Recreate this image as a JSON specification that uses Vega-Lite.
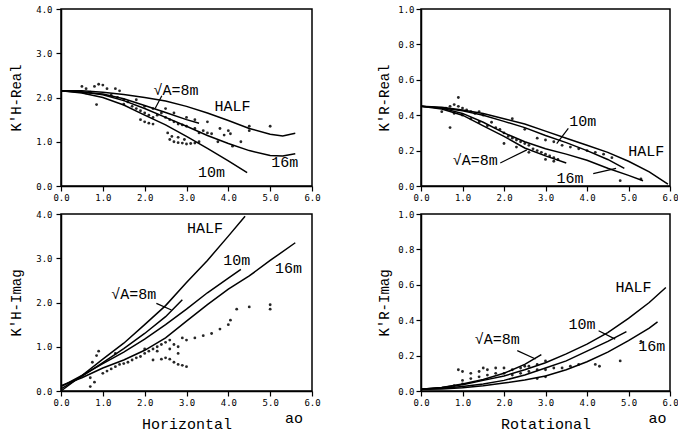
{
  "$schema": "https://vega.github.io/schema/vega-lite/v6.json",
  "background": "white",
  "padding": {"left": 8, "top": 4, "right": 2, "bottom": 2},
  "columns": 2,
  "spacing": {"row": 6, "column": 55},
  "config": {
    "view": {"stroke": "black", "strokeWidth": 1.5},
    "axis": {
      "grid": false, "domainColor": "black", "domainWidth": 1.5, "tickColor": "black", "tickSize": 5, "tickWidth": 1.2,
      "labelFont": "DejaVu Sans Mono", "labelFontSize": 9, "labelColor": "black", "labelOverlap": false, "labelFlush": false,
      "titleFont": "Liberation Mono", "titleFontSize": 14, "titleFontWeight": "normal", "titleColor": "black"
    }
  },
  "datasets": {
    "curves": [
      {"p":"HR","s":"HALF","x":0,"y":2.15},{"p":"HR","s":"HALF","x":0.5,"y":2.15},{"p":"HR","s":"HALF","x":1,"y":2.12},{"p":"HR","s":"HALF","x":1.5,"y":2.07},{"p":"HR","s":"HALF","x":2,"y":2.0},{"p":"HR","s":"HALF","x":2.5,"y":1.92},{"p":"HR","s":"HALF","x":3,"y":1.8},{"p":"HR","s":"HALF","x":3.5,"y":1.65},{"p":"HR","s":"HALF","x":4,"y":1.48},{"p":"HR","s":"HALF","x":4.5,"y":1.3},{"p":"HR","s":"HALF","x":5,"y":1.17},{"p":"HR","s":"HALF","x":5.3,"y":1.13},{"p":"HR","s":"HALF","x":5.6,"y":1.19},
      {"p":"HR","s":"16m","x":0,"y":2.15},{"p":"HR","s":"16m","x":0.5,"y":2.13},{"p":"HR","s":"16m","x":1,"y":2.06},{"p":"HR","s":"16m","x":1.5,"y":1.93},{"p":"HR","s":"16m","x":2,"y":1.75},{"p":"HR","s":"16m","x":2.5,"y":1.55},{"p":"HR","s":"16m","x":3,"y":1.35},{"p":"HR","s":"16m","x":3.5,"y":1.14},{"p":"HR","s":"16m","x":4,"y":0.96},{"p":"HR","s":"16m","x":4.5,"y":0.8},{"p":"HR","s":"16m","x":5,"y":0.69},{"p":"HR","s":"16m","x":5.3,"y":0.68},{"p":"HR","s":"16m","x":5.6,"y":0.73},
      {"p":"HR","s":"10m","x":0,"y":2.15},{"p":"HR","s":"10m","x":0.5,"y":2.1},{"p":"HR","s":"10m","x":1,"y":2.0},{"p":"HR","s":"10m","x":1.5,"y":1.83},{"p":"HR","s":"10m","x":2,"y":1.6},{"p":"HR","s":"10m","x":2.5,"y":1.38},{"p":"HR","s":"10m","x":3,"y":1.12},{"p":"HR","s":"10m","x":3.5,"y":0.85},{"p":"HR","s":"10m","x":4,"y":0.57},{"p":"HR","s":"10m","x":4.45,"y":0.3},
      {"p":"HR","s":"8m","x":0,"y":2.15},{"p":"HR","s":"8m","x":1,"y":2.08},{"p":"HR","s":"8m","x":1.5,"y":1.97},{"p":"HR","s":"8m","x":2,"y":1.82},{"p":"HR","s":"8m","x":2.5,"y":1.66},{"p":"HR","s":"8m","x":3,"y":1.5},{"p":"HR","s":"8m","x":3.3,"y":1.42},

      {"p":"RR","s":"HALF","x":0,"y":0.45},{"p":"RR","s":"HALF","x":0.5,"y":0.445},{"p":"RR","s":"HALF","x":1,"y":0.43},{"p":"RR","s":"HALF","x":1.5,"y":0.41},{"p":"RR","s":"HALF","x":2,"y":0.38},{"p":"RR","s":"HALF","x":2.5,"y":0.35},{"p":"RR","s":"HALF","x":3,"y":0.31},{"p":"RR","s":"HALF","x":3.5,"y":0.27},{"p":"RR","s":"HALF","x":4,"y":0.23},{"p":"RR","s":"HALF","x":4.5,"y":0.19},{"p":"RR","s":"HALF","x":5,"y":0.14},{"p":"RR","s":"HALF","x":5.5,"y":0.08},{"p":"RR","s":"HALF","x":5.95,"y":0.01},
      {"p":"RR","s":"10m","x":0,"y":0.45},{"p":"RR","s":"10m","x":0.5,"y":0.44},{"p":"RR","s":"10m","x":1,"y":0.425},{"p":"RR","s":"10m","x":1.5,"y":0.4},{"p":"RR","s":"10m","x":2,"y":0.365},{"p":"RR","s":"10m","x":2.5,"y":0.33},{"p":"RR","s":"10m","x":3,"y":0.285},{"p":"RR","s":"10m","x":3.5,"y":0.245},{"p":"RR","s":"10m","x":4,"y":0.2},{"p":"RR","s":"10m","x":4.5,"y":0.15},{"p":"RR","s":"10m","x":4.9,"y":0.1},
      {"p":"RR","s":"16m","x":0,"y":0.45},{"p":"RR","s":"16m","x":0.5,"y":0.44},{"p":"RR","s":"16m","x":1,"y":0.41},{"p":"RR","s":"16m","x":1.5,"y":0.36},{"p":"RR","s":"16m","x":2,"y":0.3},{"p":"RR","s":"16m","x":2.5,"y":0.25},{"p":"RR","s":"16m","x":3,"y":0.21},{"p":"RR","s":"16m","x":3.5,"y":0.18},{"p":"RR","s":"16m","x":4,"y":0.145},{"p":"RR","s":"16m","x":4.5,"y":0.1},{"p":"RR","s":"16m","x":5,"y":0.06},{"p":"RR","s":"16m","x":5.35,"y":0.03},
      {"p":"RR","s":"8m","x":0,"y":0.45},{"p":"RR","s":"8m","x":0.5,"y":0.435},{"p":"RR","s":"8m","x":1,"y":0.4},{"p":"RR","s":"8m","x":1.5,"y":0.34},{"p":"RR","s":"8m","x":2,"y":0.28},{"p":"RR","s":"8m","x":2.5,"y":0.215},{"p":"RR","s":"8m","x":3,"y":0.17},{"p":"RR","s":"8m","x":3.5,"y":0.13},

      {"p":"HI","s":"HALF","x":0,"y":0},{"p":"HI","s":"HALF","x":0.5,"y":0.35},{"p":"HI","s":"HALF","x":1,"y":0.72},{"p":"HI","s":"HALF","x":1.5,"y":1.08},{"p":"HI","s":"HALF","x":2,"y":1.5},{"p":"HI","s":"HALF","x":2.5,"y":1.93},{"p":"HI","s":"HALF","x":3,"y":2.45},{"p":"HI","s":"HALF","x":3.5,"y":2.95},{"p":"HI","s":"HALF","x":4,"y":3.5},{"p":"HI","s":"HALF","x":4.4,"y":3.95},
      {"p":"HI","s":"10m","x":0,"y":0.1},{"p":"HI","s":"10m","x":0.5,"y":0.35},{"p":"HI","s":"10m","x":1,"y":0.62},{"p":"HI","s":"10m","x":1.5,"y":0.88},{"p":"HI","s":"10m","x":2,"y":1.17},{"p":"HI","s":"10m","x":2.5,"y":1.5},{"p":"HI","s":"10m","x":3,"y":1.85},{"p":"HI","s":"10m","x":3.5,"y":2.22},{"p":"HI","s":"10m","x":4,"y":2.55},{"p":"HI","s":"10m","x":4.3,"y":2.75},
      {"p":"HI","s":"16m","x":0,"y":0.12},{"p":"HI","s":"16m","x":0.5,"y":0.3},{"p":"HI","s":"16m","x":1,"y":0.52},{"p":"HI","s":"16m","x":1.5,"y":0.7},{"p":"HI","s":"16m","x":2,"y":0.92},{"p":"HI","s":"16m","x":2.5,"y":1.2},{"p":"HI","s":"16m","x":3,"y":1.58},{"p":"HI","s":"16m","x":3.5,"y":1.95},{"p":"HI","s":"16m","x":4,"y":2.3},{"p":"HI","s":"16m","x":4.5,"y":2.6},{"p":"HI","s":"16m","x":5,"y":2.95},{"p":"HI","s":"16m","x":5.6,"y":3.35},
      {"p":"HI","s":"8m","x":0,"y":0.05},{"p":"HI","s":"8m","x":0.5,"y":0.33},{"p":"HI","s":"8m","x":1,"y":0.64},{"p":"HI","s":"8m","x":1.5,"y":0.96},{"p":"HI","s":"8m","x":2,"y":1.3},{"p":"HI","s":"8m","x":2.5,"y":1.68},{"p":"HI","s":"8m","x":2.9,"y":2.06},

      {"p":"RI","s":"HALF","x":0,"y":0.01},{"p":"RI","s":"HALF","x":0.5,"y":0.02},{"p":"RI","s":"HALF","x":1,"y":0.035},{"p":"RI","s":"HALF","x":1.5,"y":0.06},{"p":"RI","s":"HALF","x":2,"y":0.085},{"p":"RI","s":"HALF","x":2.5,"y":0.12},{"p":"RI","s":"HALF","x":3,"y":0.16},{"p":"RI","s":"HALF","x":3.5,"y":0.21},{"p":"RI","s":"HALF","x":4,"y":0.265},{"p":"RI","s":"HALF","x":4.5,"y":0.33},{"p":"RI","s":"HALF","x":5,"y":0.41},{"p":"RI","s":"HALF","x":5.5,"y":0.5},{"p":"RI","s":"HALF","x":5.9,"y":0.585},
      {"p":"RI","s":"10m","x":0,"y":0.01},{"p":"RI","s":"10m","x":0.5,"y":0.015},{"p":"RI","s":"10m","x":1,"y":0.025},{"p":"RI","s":"10m","x":1.5,"y":0.04},{"p":"RI","s":"10m","x":2,"y":0.06},{"p":"RI","s":"10m","x":2.5,"y":0.09},{"p":"RI","s":"10m","x":3,"y":0.13},{"p":"RI","s":"10m","x":3.5,"y":0.17},{"p":"RI","s":"10m","x":4,"y":0.225},{"p":"RI","s":"10m","x":4.5,"y":0.28},{"p":"RI","s":"10m","x":4.95,"y":0.335},
      {"p":"RI","s":"16m","x":0,"y":0.01},{"p":"RI","s":"16m","x":0.5,"y":0.012},{"p":"RI","s":"16m","x":1,"y":0.018},{"p":"RI","s":"16m","x":1.5,"y":0.03},{"p":"RI","s":"16m","x":2,"y":0.045},{"p":"RI","s":"16m","x":2.5,"y":0.062},{"p":"RI","s":"16m","x":3,"y":0.085},{"p":"RI","s":"16m","x":3.5,"y":0.12},{"p":"RI","s":"16m","x":4,"y":0.165},{"p":"RI","s":"16m","x":4.5,"y":0.22},{"p":"RI","s":"16m","x":5,"y":0.285},{"p":"RI","s":"16m","x":5.5,"y":0.355},{"p":"RI","s":"16m","x":5.7,"y":0.39},
      {"p":"RI","s":"8m","x":0,"y":0.01},{"p":"RI","s":"8m","x":0.5,"y":0.02},{"p":"RI","s":"8m","x":1,"y":0.04},{"p":"RI","s":"8m","x":1.5,"y":0.065},{"p":"RI","s":"8m","x":2,"y":0.1},{"p":"RI","s":"8m","x":2.5,"y":0.15},{"p":"RI","s":"8m","x":2.9,"y":0.205}
    ],
    "leaders": [
      {"p":"HR","id":"a","x":2.41,"y":2.04},{"p":"HR","id":"a","x":2.25,"y":1.75},
      {"p":"RR","id":"a","x":3.55,"y":0.326},{"p":"RR","id":"a","x":3.27,"y":0.24},
      {"p":"RR","id":"b","x":4.15,"y":0.07},{"p":"RR","id":"b","x":4.7,"y":0.1},
      {"p":"RR","id":"c","x":1.91,"y":0.13},{"p":"RR","id":"c","x":2.55,"y":0.204},
      {"p":"HI","id":"a","x":2.28,"y":1.98},{"p":"HI","id":"a","x":2.64,"y":1.83},
      {"p":"RI","id":"a","x":4.28,"y":0.34},{"p":"RI","id":"a","x":4.68,"y":0.293},
      {"p":"RI","id":"b","x":2.32,"y":0.228},{"p":"RI","id":"b","x":2.76,"y":0.181}
    ],
    "labels": [
      {"p":"HR","t":"HALF","x":4.1,"y":1.8},{"p":"HR","t":"10m","x":3.6,"y":0.31},{"p":"HR","t":"16m","x":5.35,"y":0.55},{"p":"HR","t":"√A=8m","x":2.75,"y":2.17},
      {"p":"RR","t":"10m","x":3.9,"y":0.37},{"p":"RR","t":"HALF","x":5.43,"y":0.195},{"p":"RR","t":"16m","x":3.59,"y":0.045},{"p":"RR","t":"√A=8m","x":1.31,"y":0.148},
      {"p":"HI","t":"HALF","x":3.44,"y":3.68},{"p":"HI","t":"10m","x":4.2,"y":2.97},{"p":"HI","t":"16m","x":5.44,"y":2.78},{"p":"HI","t":"√A=8m","x":1.74,"y":2.19},{"p":"HI","t":"ao","x":5.57,"y":-0.6},
      {"p":"RI","t":"HALF","x":5.12,"y":0.59},{"p":"RI","t":"10m","x":3.88,"y":0.378},{"p":"RI","t":"16m","x":5.56,"y":0.256},{"p":"RI","t":"√A=8m","x":1.84,"y":0.293},{"p":"RI","t":"ao","x":5.7,"y":-0.15}
    ],
    "pts": [
      {"p":"HR","x":0.5,"y":2.25},{"p":"HR","x":0.6,"y":2.2},{"p":"HR","x":0.8,"y":2.25},{"p":"HR","x":0.9,"y":2.3},{"p":"HR","x":1.0,"y":2.28},{"p":"HR","x":1.1,"y":2.2},{"p":"HR","x":1.3,"y":2.2},{"p":"HR","x":1.4,"y":2.15},{"p":"HR","x":0.85,"y":1.84},{"p":"HR","x":0.6,"y":2.1},{"p":"HR","x":0.7,"y":2.12},{"p":"HR","x":1.2,"y":2.05},{"p":"HR","x":1.35,"y":2.0},
      {"p":"HR","x":2.55,"y":1.2},{"p":"HR","x":2.6,"y":1.05},{"p":"HR","x":2.7,"y":1.0},{"p":"HR","x":2.8,"y":0.98},{"p":"HR","x":2.9,"y":0.97},{"p":"HR","x":3.0,"y":0.95},{"p":"HR","x":3.1,"y":0.96},{"p":"HR","x":3.2,"y":0.97},{"p":"HR","x":3.3,"y":1.0},{"p":"HR","x":2.65,"y":1.12},{"p":"HR","x":2.8,"y":1.1},{"p":"HR","x":2.95,"y":1.05},
      {"p":"HR","x":3.9,"y":1.15},{"p":"HR","x":4.0,"y":1.25},{"p":"HR","x":4.05,"y":1.18},{"p":"HR","x":4.1,"y":0.9},{"p":"HR","x":3.75,"y":1.0},{"p":"HR","x":4.3,"y":1.0},{"p":"HR","x":4.5,"y":1.35},{"p":"HR","x":4.5,"y":1.25},{"p":"HR","x":5.0,"y":1.35},
      {"p":"HR","x":1.5,"y":1.95},{"p":"HR","x":1.6,"y":1.9},{"p":"HR","x":1.7,"y":1.8},{"p":"HR","x":1.8,"y":1.75},{"p":"HR","x":1.9,"y":1.7},{"p":"HR","x":2.0,"y":1.65},{"p":"HR","x":2.1,"y":1.6},{"p":"HR","x":2.2,"y":1.55},{"p":"HR","x":2.3,"y":1.6},{"p":"HR","x":2.4,"y":1.65},{"p":"HR","x":2.5,"y":1.55},{"p":"HR","x":2.6,"y":1.5},{"p":"HR","x":2.7,"y":1.45},{"p":"HR","x":2.8,"y":1.4},{"p":"HR","x":2.9,"y":1.38},{"p":"HR","x":3.0,"y":1.35},{"p":"HR","x":3.2,"y":1.3},{"p":"HR","x":3.4,"y":1.25},{"p":"HR","x":3.5,"y":1.2},{"p":"HR","x":3.6,"y":1.18},{"p":"HR","x":1.5,"y":1.85},{"p":"HR","x":1.8,"y":1.95},{"p":"HR","x":2.0,"y":1.8},{"p":"HR","x":2.2,"y":1.75},{"p":"HR","x":1.9,"y":1.5},{"p":"HR","x":2.0,"y":1.45},{"p":"HR","x":2.1,"y":1.42},{"p":"HR","x":2.2,"y":1.4},{"p":"HR","x":2.5,"y":1.75},{"p":"HR","x":2.7,"y":1.65},{"p":"HR","x":3.0,"y":1.55},{"p":"HR","x":3.2,"y":1.5},{"p":"HR","x":3.5,"y":1.45},{"p":"HR","x":3.8,"y":1.3},{"p":"HR","x":3.3,"y":1.2},

      {"p":"RR","x":0.7,"y":0.33},{"p":"RR","x":0.9,"y":0.5},{"p":"RR","x":0.5,"y":0.42},{"p":"RR","x":0.6,"y":0.44},{"p":"RR","x":0.7,"y":0.45},{"p":"RR","x":0.8,"y":0.46},{"p":"RR","x":0.9,"y":0.45},{"p":"RR","x":1.0,"y":0.44},{"p":"RR","x":1.1,"y":0.43},{"p":"RR","x":1.2,"y":0.42},{"p":"RR","x":1.3,"y":0.41},{"p":"RR","x":1.4,"y":0.42},{"p":"RR","x":1.5,"y":0.4},{"p":"RR","x":0.8,"y":0.41},{"p":"RR","x":1.0,"y":0.4},{"p":"RR","x":1.2,"y":0.38},{"p":"RR","x":1.4,"y":0.36},{"p":"RR","x":1.6,"y":0.34},{"p":"RR","x":1.8,"y":0.33},{"p":"RR","x":2.0,"y":0.3},{"p":"RR","x":2.1,"y":0.28},{"p":"RR","x":2.2,"y":0.27},{"p":"RR","x":2.3,"y":0.26},{"p":"RR","x":2.4,"y":0.25},{"p":"RR","x":2.5,"y":0.24},{"p":"RR","x":2.6,"y":0.23},{"p":"RR","x":2.7,"y":0.21},{"p":"RR","x":2.8,"y":0.2},{"p":"RR","x":2.9,"y":0.19},{"p":"RR","x":3.0,"y":0.18},{"p":"RR","x":3.1,"y":0.17},{"p":"RR","x":3.2,"y":0.16},{"p":"RR","x":3.3,"y":0.15},{"p":"RR","x":2.2,"y":0.38},{"p":"RR","x":2.5,"y":0.32},{"p":"RR","x":2.8,"y":0.27},{"p":"RR","x":3.0,"y":0.26},{"p":"RR","x":3.2,"y":0.25},{"p":"RR","x":3.4,"y":0.23},{"p":"RR","x":3.6,"y":0.22},{"p":"RR","x":3.8,"y":0.21},{"p":"RR","x":4.0,"y":0.2},{"p":"RR","x":4.2,"y":0.19},{"p":"RR","x":4.4,"y":0.18},{"p":"RR","x":4.6,"y":0.16},{"p":"RR","x":4.8,"y":0.03},{"p":"RR","x":5.3,"y":0.04},{"p":"RR","x":2.0,"y":0.24},{"p":"RR","x":2.3,"y":0.22},{"p":"RR","x":2.6,"y":0.19},{"p":"RR","x":3.0,"y":0.15},{"p":"RR","x":3.2,"y":0.14},{"p":"RR","x":1.7,"y":0.36},{"p":"RR","x":1.9,"y":0.32},

      {"p":"HI","x":0.7,"y":0.3},{"p":"HI","x":0.7,"y":0.1},{"p":"HI","x":0.8,"y":0.2},{"p":"HI","x":0.85,"y":0.8},{"p":"HI","x":0.9,"y":0.9},{"p":"HI","x":0.75,"y":0.65},{"p":"HI","x":1.0,"y":0.4},{"p":"HI","x":1.1,"y":0.45},{"p":"HI","x":1.2,"y":0.5},{"p":"HI","x":1.3,"y":0.55},{"p":"HI","x":1.4,"y":0.6},{"p":"HI","x":1.5,"y":0.62},{"p":"HI","x":1.6,"y":0.65},{"p":"HI","x":1.7,"y":0.7},{"p":"HI","x":1.8,"y":0.75},{"p":"HI","x":1.9,"y":0.78},{"p":"HI","x":2.0,"y":0.85},{"p":"HI","x":2.1,"y":0.9},{"p":"HI","x":2.2,"y":0.95},{"p":"HI","x":2.3,"y":1.0},{"p":"HI","x":2.4,"y":1.05},{"p":"HI","x":2.2,"y":0.7},{"p":"HI","x":2.4,"y":0.72},{"p":"HI","x":2.5,"y":0.75},{"p":"HI","x":2.6,"y":0.72},{"p":"HI","x":2.7,"y":0.65},{"p":"HI","x":2.8,"y":0.6},{"p":"HI","x":2.9,"y":0.58},{"p":"HI","x":3.0,"y":0.55},{"p":"HI","x":2.5,"y":1.1},{"p":"HI","x":2.6,"y":1.15},{"p":"HI","x":2.7,"y":1.05},{"p":"HI","x":2.8,"y":1.0},{"p":"HI","x":2.9,"y":1.2},{"p":"HI","x":3.0,"y":1.15},{"p":"HI","x":3.2,"y":1.2},{"p":"HI","x":3.4,"y":1.25},{"p":"HI","x":3.6,"y":1.3},{"p":"HI","x":3.8,"y":1.4},{"p":"HI","x":4.0,"y":1.5},{"p":"HI","x":4.05,"y":1.6},{"p":"HI","x":4.2,"y":1.85},{"p":"HI","x":4.5,"y":1.9},{"p":"HI","x":5.0,"y":1.85},{"p":"HI","x":5.0,"y":1.95},{"p":"HI","x":1.3,"y":0.85},{"p":"HI","x":2.0,"y":0.95},{"p":"HI","x":2.3,"y":0.9},{"p":"HI","x":2.6,"y":0.95},{"p":"HI","x":2.8,"y":0.85},

      {"p":"RI","x":0.9,"y":0.12},{"p":"RI","x":1.0,"y":0.11},{"p":"RI","x":1.2,"y":0.1},{"p":"RI","x":1.4,"y":0.11},{"p":"RI","x":1.6,"y":0.12},{"p":"RI","x":1.8,"y":0.13},{"p":"RI","x":2.0,"y":0.13},{"p":"RI","x":2.2,"y":0.12},{"p":"RI","x":2.4,"y":0.13},{"p":"RI","x":2.6,"y":0.14},{"p":"RI","x":2.8,"y":0.15},{"p":"RI","x":3.0,"y":0.17},{"p":"RI","x":1.0,"y":0.06},{"p":"RI","x":1.2,"y":0.07},{"p":"RI","x":1.4,"y":0.08},{"p":"RI","x":1.6,"y":0.09},{"p":"RI","x":1.8,"y":0.1},{"p":"RI","x":2.0,"y":0.1},{"p":"RI","x":2.2,"y":0.09},{"p":"RI","x":2.4,"y":0.1},{"p":"RI","x":2.6,"y":0.11},{"p":"RI","x":2.8,"y":0.12},{"p":"RI","x":3.0,"y":0.12},{"p":"RI","x":3.2,"y":0.13},{"p":"RI","x":3.4,"y":0.13},{"p":"RI","x":3.6,"y":0.14},{"p":"RI","x":3.8,"y":0.15},{"p":"RI","x":4.2,"y":0.15},{"p":"RI","x":4.3,"y":0.14},{"p":"RI","x":4.8,"y":0.17},{"p":"RI","x":5.3,"y":0.28},{"p":"RI","x":3.0,"y":0.08},{"p":"RI","x":2.8,"y":0.07},{"p":"RI","x":0.8,"y":0.03},{"p":"RI","x":1.0,"y":0.04},{"p":"RI","x":1.5,"y":0.13},{"p":"RI","x":2.5,"y":0.14}
    ]
  },
  "concat": [
    {
      "width": 251, "height": 177,
      "encoding": {
        "x": {"field": "x", "type": "quantitative", "scale": {"domain": [0, 6]}, "axis": {"values": [0,1,2,3,4,5,6], "format": ".1f", "title": null}},
        "y": {"field": "y", "type": "quantitative", "scale": {"domain": [0, 4]}, "axis": {"values": [0,1,2,3,4], "format": ".1f", "title": "K'H-Real", "labelPadding": 4, "titlePadding": 12}}
      },
      "layer": [
        {"data": {"name": "curves"}, "transform": [{"filter": "datum.p=='HR'"}], "mark": {"type": "line", "color": "black", "strokeWidth": 1.5}, "encoding": {"detail": {"field": "s"}}},
        {"data": {"name": "leaders"}, "transform": [{"filter": "datum.p=='HR'"}], "mark": {"type": "line", "color": "black", "strokeWidth": 1.2}, "encoding": {"detail": {"field": "id"}}},
        {"data": {"name": "pts"}, "transform": [{"filter": "datum.p=='HR'"}], "mark": {"type": "point", "filled": true, "size": 8, "color": "black", "opacity": 0.85}},
        {"data": {"name": "labels"}, "transform": [{"filter": "datum.p=='HR'"}], "mark": {"type": "text", "font": "Liberation Mono", "fontSize": 15, "color": "black", "align": "center", "baseline": "middle"}, "encoding": {"text": {"field": "t"}}}
      ]
    },
    {
      "width": 249, "height": 177,
      "encoding": {
        "x": {"field": "x", "type": "quantitative", "scale": {"domain": [0, 6]}, "axis": {"values": [0,1,2,3,4,5,6], "format": ".1f", "title": null}},
        "y": {"field": "y", "type": "quantitative", "scale": {"domain": [0, 1]}, "axis": {"values": [0,0.2,0.4,0.6,0.8,1], "format": ".1f", "title": "K'R-Real", "labelPadding": 2, "titlePadding": 6}}
      },
      "layer": [
        {"data": {"name": "curves"}, "transform": [{"filter": "datum.p=='RR'"}], "mark": {"type": "line", "color": "black", "strokeWidth": 1.5}, "encoding": {"detail": {"field": "s"}}},
        {"data": {"name": "leaders"}, "transform": [{"filter": "datum.p=='RR'"}], "mark": {"type": "line", "color": "black", "strokeWidth": 1.2}, "encoding": {"detail": {"field": "id"}}},
        {"data": {"name": "pts"}, "transform": [{"filter": "datum.p=='RR'"}], "mark": {"type": "point", "filled": true, "size": 8, "color": "black", "opacity": 0.85}},
        {"data": {"name": "labels"}, "transform": [{"filter": "datum.p=='RR'"}], "mark": {"type": "text", "font": "Liberation Mono", "fontSize": 15, "color": "black", "align": "center", "baseline": "middle"}, "encoding": {"text": {"field": "t"}}}
      ]
    },
    {
      "width": 251, "height": 177,
      "encoding": {
        "x": {"field": "x", "type": "quantitative", "scale": {"domain": [0, 6]}, "axis": {"values": [0,1,2,3,4,5,6], "format": ".1f", "title": "Horizontal", "titleFontSize": 15, "titlePadding": 9}},
        "y": {"field": "y", "type": "quantitative", "scale": {"domain": [0, 4]}, "axis": {"values": [0,1,2,3,4], "format": ".1f", "title": "K'H-Imag", "labelPadding": 4, "titlePadding": 12}}
      },
      "layer": [
        {"data": {"name": "curves"}, "transform": [{"filter": "datum.p=='HI'"}], "mark": {"type": "line", "color": "black", "strokeWidth": 1.5}, "encoding": {"detail": {"field": "s"}}},
        {"data": {"name": "leaders"}, "transform": [{"filter": "datum.p=='HI'"}], "mark": {"type": "line", "color": "black", "strokeWidth": 1.2}, "encoding": {"detail": {"field": "id"}}},
        {"data": {"name": "pts"}, "transform": [{"filter": "datum.p=='HI'"}], "mark": {"type": "point", "filled": true, "size": 8, "color": "black", "opacity": 0.85}},
        {"data": {"name": "labels"}, "transform": [{"filter": "datum.p=='HI'"}], "mark": {"type": "text", "font": "Liberation Mono", "fontSize": 15, "color": "black", "align": "center", "baseline": "middle"}, "encoding": {"text": {"field": "t"}}}
      ]
    },
    {
      "width": 249, "height": 177,
      "encoding": {
        "x": {"field": "x", "type": "quantitative", "scale": {"domain": [0, 6]}, "axis": {"values": [0,1,2,3,4,5,6], "format": ".1f", "title": "Rotational", "titleFontSize": 15, "titlePadding": 9}},
        "y": {"field": "y", "type": "quantitative", "scale": {"domain": [0, 1]}, "axis": {"values": [0,0.2,0.4,0.6,0.8,1], "format": ".1f", "title": "K'R-Imag", "labelPadding": 2, "titlePadding": 6}}
      },
      "layer": [
        {"data": {"name": "curves"}, "transform": [{"filter": "datum.p=='RI'"}], "mark": {"type": "line", "color": "black", "strokeWidth": 1.5}, "encoding": {"detail": {"field": "s"}}},
        {"data": {"name": "leaders"}, "transform": [{"filter": "datum.p=='RI'"}], "mark": {"type": "line", "color": "black", "strokeWidth": 1.2}, "encoding": {"detail": {"field": "id"}}},
        {"data": {"name": "pts"}, "transform": [{"filter": "datum.p=='RI'"}], "mark": {"type": "point", "filled": true, "size": 8, "color": "black", "opacity": 0.85}},
        {"data": {"name": "labels"}, "transform": [{"filter": "datum.p=='RI'"}], "mark": {"type": "text", "font": "Liberation Mono", "fontSize": 15, "color": "black", "align": "center", "baseline": "middle"}, "encoding": {"text": {"field": "t"}}}
      ]
    }
  ]
}
